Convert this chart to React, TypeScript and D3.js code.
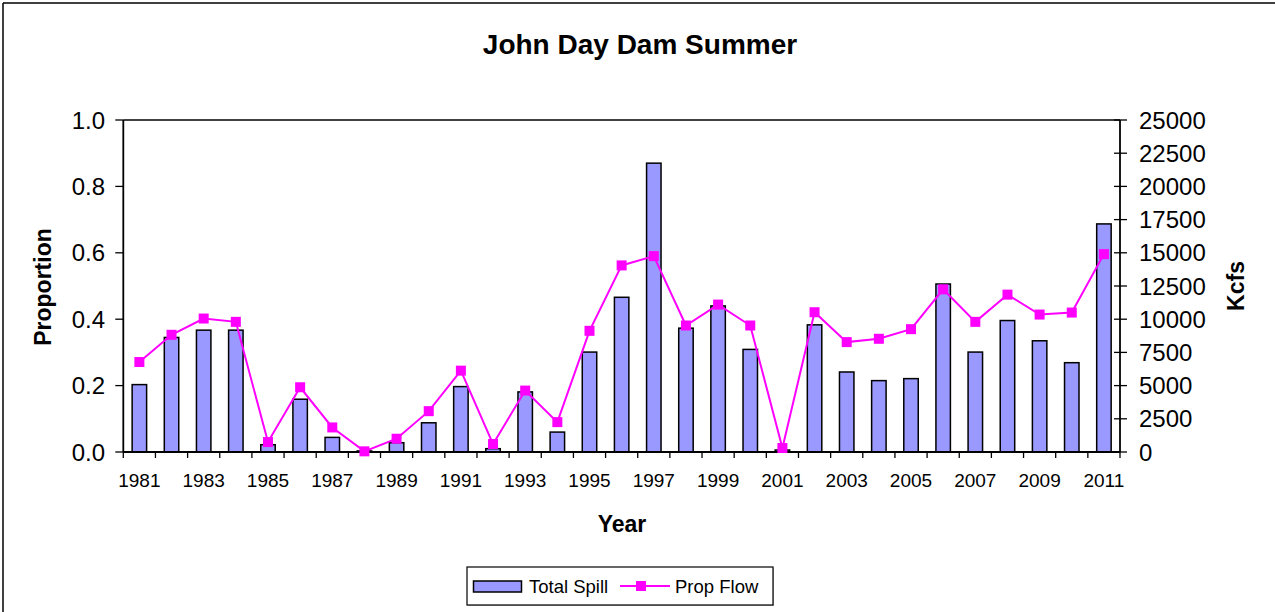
import React from "react";
import * as d3 from "d3";

const years: number[] = [1981,1982,1983,1984,1985,1986,1987,1988,1989,1990,1991,1992,1993,1994,1995,1996,1997,1998,1999,2000,2001,2002,2003,2004,2005,2006,2007,2008,2009,2010,2011];
const totalSpill: number[] = [5075,8625,9175,9175,550,3975,1100,80,700,2200,4925,250,4525,1500,7525,11650,21750,9325,11000,7725,150,9575,6025,5375,5525,12650,7525,9900,8375,6725,17175];
const propFlow: number[] = [0.271,0.353,0.402,0.392,0.030,0.195,0.074,0.002,0.040,0.123,0.245,0.024,0.185,0.090,0.365,0.562,0.590,0.381,0.444,0.381,0.012,0.421,0.331,0.341,0.370,0.490,0.392,0.474,0.414,0.420,0.596];
const leftTicks: number[] = [0,0.2,0.4,0.6,0.8,1.0];
const rightTicks: number[] = [0,2500,5000,7500,10000,12500,15000,17500,20000,22500,25000];

const FONT = "'Liberation Sans', Arial, Helvetica, sans-serif";

export default function App() {
  const W = 1275, H = 612;
  const L = 123.3, R = 1120, T = 120, B = 452;
  const x = d3.scaleBand<number>().domain(years).range([L, R]).padding(0);
  const bw = x.bandwidth();
  const yL = d3.scaleLinear().domain([0, 1]).range([B, T]);
  const yR = d3.scaleLinear().domain([0, 25000]).range([B, T]);
  const barW = bw * 0.45;
  const line = d3.line<number>()
    .x((_, i) => (x(years[i]) as number) + bw / 2)
    .y((d) => yL(d));
  const boundaries = d3.range(years.length + 1).map((i) => L + i * bw);

  return (
    <svg width={W} height={H} style={{ position: "absolute", left: 0, top: 0, background: "#fff" }} fontFamily={FONT}>
      <rect x={0} y={0} width={W} height={H} fill="#fff" />
      {/* outer frame */}
      <line x1={3} y1={3} x2={W} y2={3} stroke="#000" strokeWidth={1.5} />
      <line x1={3} y1={3} x2={3} y2={H} stroke="#000" strokeWidth={1.5} />

      <text x={640} y={54} textAnchor="middle" fontSize={28} fontWeight="bold">John Day Dam Summer</text>

      {/* bars */}
      {years.map((yr, i) => (
        <rect key={yr} x={(x(yr) as number) + bw / 2 - barW / 2} y={yR(totalSpill[i])}
          width={barW} height={B - yR(totalSpill[i])} fill="#9999FF" stroke="#000" strokeWidth={1.5} />
      ))}

      {/* plot border & axes */}
      <line x1={L} y1={T} x2={R} y2={T} stroke="#000" strokeWidth={1.5} />
      <line x1={L} y1={T} x2={L} y2={B} stroke="#000" strokeWidth={1.8} />
      <line x1={R} y1={T} x2={R} y2={B} stroke="#000" strokeWidth={1.8} />
      <line x1={L} y1={B} x2={R} y2={B} stroke="#000" strokeWidth={1.8} />

      {leftTicks.map((t) => (
        <g key={"l" + t}>
          <line x1={L - 8} x2={L} y1={yL(t)} y2={yL(t)} stroke="#000" strokeWidth={1.3} />
          <text x={105} y={yL(t) + 8.5} textAnchor="end" fontSize={24}>{t.toFixed(1)}</text>
        </g>
      ))}
      {rightTicks.map((t) => (
        <g key={"r" + t}>
          <line x1={R - 6} x2={R + 7} y1={yR(t)} y2={yR(t)} stroke="#000" strokeWidth={1.3} />
          <text x={1139} y={yR(t) + 8.5} textAnchor="start" fontSize={24}>{t}</text>
        </g>
      ))}
      {boundaries.map((bx, i) => (
        <line key={"b" + i} x1={bx} x2={bx} y1={B} y2={B + 6} stroke="#000" strokeWidth={1.3} />
      ))}
      {years.map((yr, i) => i % 2 === 0 ? (
        <text key={"x" + yr} x={(x(yr) as number) + bw / 2} y={487} textAnchor="middle" fontSize={19}>{yr}</text>
      ) : null)}

      {/* line series */}
      <path d={line(propFlow) || ""} fill="none" stroke="#FF00FF" strokeWidth={2} />
      {propFlow.map((v, i) => (
        <rect key={"m" + i} x={(x(years[i]) as number) + bw / 2 - 5} y={yL(v) - 5} width={10} height={10} fill="#FF00FF" />
      ))}

      {/* axis titles */}
      <text transform={`translate(51,287) rotate(-90)`} textAnchor="middle" fontSize={23} fontWeight="bold">Proportion</text>
      <text transform={`translate(1244,286) rotate(-90)`} textAnchor="middle" fontSize={23} fontWeight="bold">Kcfs</text>
      <text x={622} y={532} textAnchor="middle" fontSize={23} fontWeight="bold">Year</text>

      {/* legend */}
      <rect x={468} y={568} width={306} height={38} fill="#bbb" />
      <rect x={467} y={567} width={306} height={38} fill="#fff" stroke="#000" strokeWidth={1.2} />
      <rect x={473.5} y={581} width={48} height={11} fill="#9999FF" stroke="#000" strokeWidth={1.5} />
      <text x={529} y={593} fontSize={18.5}>Total Spill</text>
      <line x1={620} x2={670} y1={586} y2={586} stroke="#FF00FF" strokeWidth={2} />
      <rect x={636} y={581} width={10} height={10} fill="#FF00FF" />
      <text x={675} y={593} fontSize={18.5}>Prop Flow</text>
    </svg>
  );
}
